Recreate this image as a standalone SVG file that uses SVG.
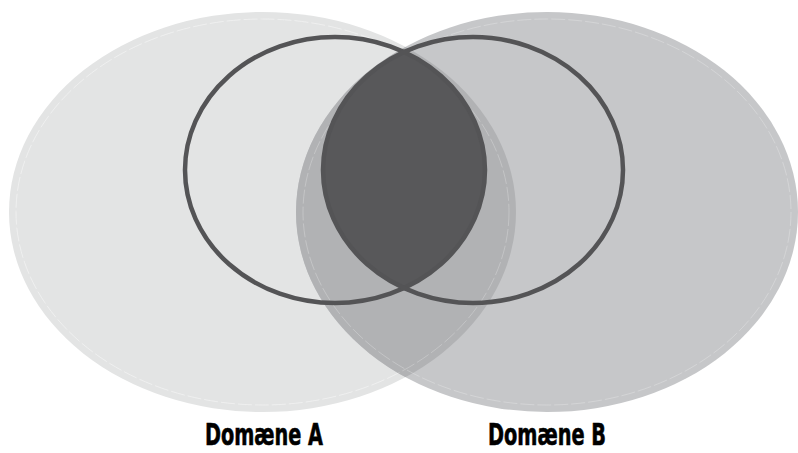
<svg xmlns="http://www.w3.org/2000/svg" width="798" height="453" viewBox="0 0 798 453">
  <style>
    .inner { fill: none; stroke: #ffffff; stroke-opacity: 0.3; stroke-width: 0.8; stroke-dasharray: 14 3; }
    .ring { fill: none; stroke: #545456; stroke-width: 4.5; }
    .label { font-family: "DejaVu Sans Condensed", "DejaVu Sans", sans-serif; font-stretch: condensed; font-weight: bold; font-size: 31px; fill: #000000; text-anchor: middle; stroke: #000000; stroke-width: 0.6; }
  </style>
  <defs>
    <clipPath id="clipBigA"><ellipse cx="262.5" cy="212" rx="253.5" ry="200"/></clipPath>
    <clipPath id="clipRingA"><ellipse cx="335" cy="170" rx="150" ry="133"/></clipPath>
  </defs>
  <g id="domain-a">
    <ellipse cx="262.5" cy="212" rx="253.5" ry="200" fill="#e3e4e4"/>
    <ellipse class="inner" cx="262.5" cy="212" rx="246.5" ry="193"/>
  </g>
  <g id="domain-b">
    <ellipse cx="547" cy="212" rx="251" ry="200" fill="#c6c7c9"/>
    <ellipse cx="547" cy="212" rx="251" ry="200" fill="#b1b2b4" clip-path="url(#clipBigA)"/>
    <ellipse class="inner" cx="547" cy="212" rx="244" ry="193"/>
    <ellipse class="inner" cx="262.5" cy="212" rx="246.5" ry="193" clip-path="url(#clipBigA)" stroke-opacity="0.2"/>
  </g>
  <g id="overlap">
    <ellipse cx="473" cy="170" rx="150" ry="133" fill="#58585a" clip-path="url(#clipRingA)"/>
  </g>
  <g id="connectors">
    <ellipse id="ring-a" class="ring" cx="335" cy="170" rx="150" ry="133"/>
    <ellipse id="ring-b" class="ring" cx="473" cy="170" rx="150" ry="133"/>
  </g>
  <g id="label-a">
    <text class="label" x="264" y="445" textLength="118" lengthAdjust="spacingAndGlyphs">Domæne A</text>
  </g>
  <g id="label-b">
    <text class="label" x="547" y="445" textLength="118" lengthAdjust="spacingAndGlyphs">Domæne B</text>
  </g>
</svg>
